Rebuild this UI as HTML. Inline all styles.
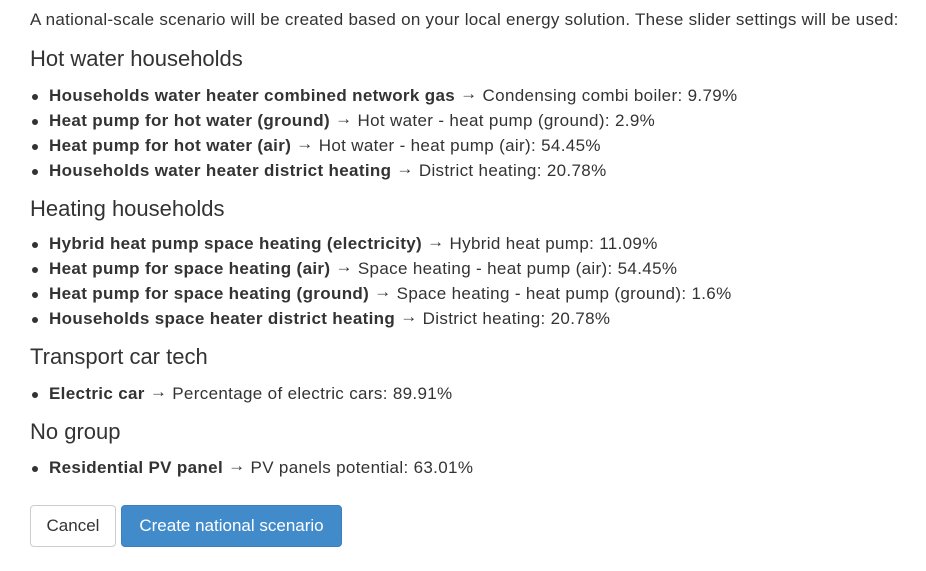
<!DOCTYPE html>
<html><head><meta charset="utf-8"><style>
body{margin:0;width:926px;height:571px;background:#fff;font-family:"Liberation Sans",Arial,sans-serif;color:#333;position:relative;overflow:hidden}
.l{position:absolute;left:30px;font-size:17px;letter-spacing:0.27px;white-space:nowrap;line-height:20px}
.h{position:absolute;left:30px;font-size:22px;white-space:nowrap;line-height:26px;color:#333}
.b{position:absolute;left:49px;font-size:17px;letter-spacing:0.34px;white-space:nowrap;line-height:20px}
.b::before{content:"";position:absolute;left:-17px;top:8px;width:6px;height:6px;border-radius:50%;background:#333}
.a{position:relative;top:-2px}
.btn{position:absolute;top:505px;height:42px;box-sizing:border-box;border-radius:4px;font-size:17px;line-height:40px;text-align:center}
</style></head><body>
<div class="l" style="top:10px">A national-scale scenario will be created based on your local energy solution. These slider settings will be used:</div>
<div class="h" style="top:46px">Hot water households</div>
<div class="b" style="top:86px"><b>Households water heater combined network gas</b> <span class="a">→</span> Condensing combi boiler: 9.79%</div>
<div class="b" style="top:111px"><b>Heat pump for hot water (ground)</b> <span class="a">→</span> Hot water - heat pump (ground): 2.9%</div>
<div class="b" style="top:136px"><b>Heat pump for hot water (air)</b> <span class="a">→</span> Hot water - heat pump (air): 54.45%</div>
<div class="b" style="top:161px"><b>Households water heater district heating</b> <span class="a">→</span> District heating: 20.78%</div>
<div class="h" style="top:196px">Heating households</div>
<div class="b" style="top:234px"><b>Hybrid heat pump space heating (electricity)</b> <span class="a">→</span> Hybrid heat pump: 11.09%</div>
<div class="b" style="top:259px"><b>Heat pump for space heating (air)</b> <span class="a">→</span> Space heating - heat pump (air): 54.45%</div>
<div class="b" style="top:284px"><b>Heat pump for space heating (ground)</b> <span class="a">→</span> Space heating - heat pump (ground): 1.6%</div>
<div class="b" style="top:309px"><b>Households space heater district heating</b> <span class="a">→</span> District heating: 20.78%</div>
<div class="h" style="top:344px">Transport car tech</div>
<div class="b" style="top:384px"><b>Electric car</b> <span class="a">→</span> Percentage of electric cars: 89.91%</div>
<div class="h" style="top:419px">No group</div>
<div class="b" style="top:458px"><b>Residential PV panel</b> <span class="a">→</span> PV panels potential: 63.01%</div>
<div class="btn" style="left:30px;width:86px;border:1px solid #ccc;color:#333;background:#fff">Cancel</div>
<div class="btn" style="left:121px;width:221px;border:1px solid #3a7fc0;background:#428bca;color:#fff">Create national scenario</div>
</body></html>
